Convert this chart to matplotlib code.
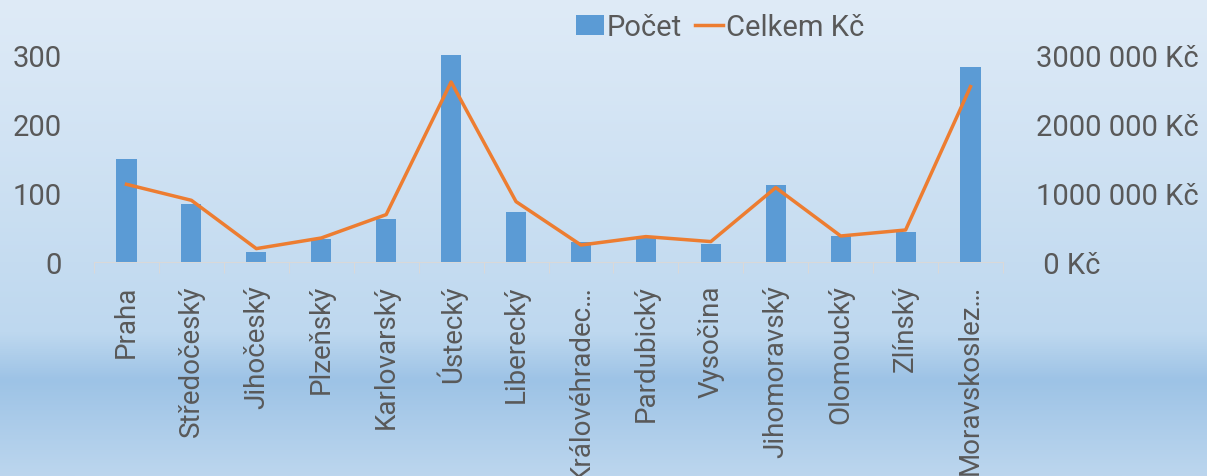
import matplotlib
matplotlib.use("Agg")
import matplotlib.pyplot as plt
import numpy as np
from matplotlib.colors import LinearSegmentedColormap
from matplotlib.patches import Patch
from matplotlib.lines import Line2D

plt.rcParams['font.family'] = ['Roboto', 'DejaVu Sans']

regions = ["Praha", "Středočeský", "Jihočeský", "Plzeňský", "Karlovarský", "Ústecký",
           "Liberecký", "Královéhradec…", "Pardubický", "Vysočina", "Jihomoravský",
           "Olomoucký", "Zlínský", "Moravskoslez…"]
pocet = [150, 84, 15, 34, 62, 300, 73, 29, 35, 26, 112, 38, 43, 282]
celkem_kc = [1126000, 894000, 194000, 348000, 687000, 2609000, 875000, 246000,
             368000, 296000, 1078000, 377000, 464000, 2542000]
left_ticks = [0, 100, 200, 300]
right_ticks = [0, 1000000, 2000000, 3000000]
right_labels = [" 0 Kč", "1000 000 Kč", "2000 000 Kč", "3000 000 Kč"]

TEXT = "#595959"
BAR = "#5b9bd5"
LINE = "#ed7d31"
FS = 21
FSX = 20

W, H = 1207, 477
fig = plt.figure(figsize=(W / 100, H / 100), dpi=100)

# background gradient
bg = fig.add_axes([0, 0, 1, 1])
cmap = LinearSegmentedColormap.from_list(
    "bg",
    [(0.0, (223/255, 235/255, 247/255)),
     (0.70, (190/255, 216/255, 239/255)),
     (0.80, (157/255, 195/255, 230/255)),
     (1.0, (188/255, 214/255, 238/255))])
grad = np.linspace(0, 1, 512).reshape(-1, 1)
bg.imshow(grad, aspect="auto", cmap=cmap, extent=[0, 1, 1, 0])
bg.set_axis_off()
bg.set_zorder(-10)

left, right = 94 / W, 1003 / W
bottom, top = (H - 263) / H, (H - 56) / H
ax = fig.add_axes([left, bottom, right - left, top - bottom])
ax.patch.set_alpha(0)
x = np.arange(len(regions))
ax.bar(x, pocet, width=0.31, color=BAR, zorder=2)
ax.set_xlim(-0.5, len(regions) - 0.5)
ax.set_ylim(0, 300)
ax.set_yticks(left_ticks)
ax.set_yticklabels([str(v) for v in left_ticks])
ax.tick_params(axis="y", length=0, pad=23, labelsize=FS, labelcolor=TEXT)
ax.set_xticks(x)
ax.set_xticklabels(regions, rotation=90, fontsize=FSX, color=TEXT, va="top", ha="center")
ax.tick_params(axis="x", which="major", length=0, pad=16)
ax.set_xticks(np.arange(-0.5, len(regions), 1.0), minor=True)
ax.tick_params(axis="x", which="minor", length=8, width=0.75, color="#d9d9d9", direction="out")
for s in ["top", "left", "right"]:
    ax.spines[s].set_visible(False)
ax.spines["bottom"].set_color("#d9d9d9")
ax.spines["bottom"].set_linewidth(0.75)

ax2 = ax.twinx()
ax2.patch.set_alpha(0)
ax2.plot(x, celkem_kc, color=LINE, linewidth=2.5, zorder=3, solid_joinstyle="round")
ax2.set_ylim(0, 3000000)
ax2.set_yticks(right_ticks)
ax2.set_yticklabels(right_labels)
ax2.tick_params(axis="y", length=0, pad=24, labelsize=FS, labelcolor=TEXT)
for s in ["top", "left", "right", "bottom"]:
    ax2.spines[s].set_visible(False)

handles = [Patch(facecolor=BAR, edgecolor="none"),
           Line2D([0], [0], color=LINE, linewidth=2.5)]
fig.legend(handles, ["Počet", "Celkem Kč"], loc="center",
           bbox_to_anchor=(720 / W, (H - 28) / H), ncol=2, frameon=False,
           fontsize=FS, labelcolor=TEXT, handlelength=0.95, handletextpad=0.1,
           columnspacing=0.45, borderpad=0, borderaxespad=0)

fig.savefig("out.png", dpi=100)
